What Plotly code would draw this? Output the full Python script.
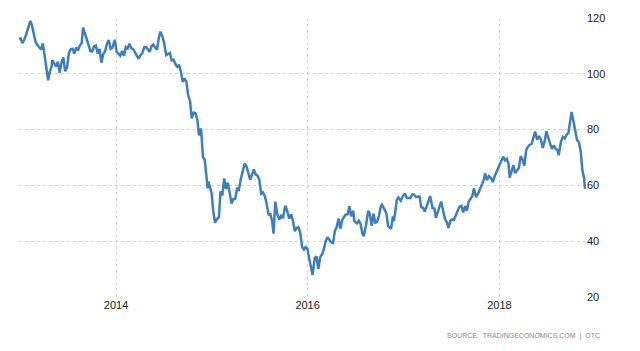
import plotly.graph_objects as go

dates = [
"2012-12-27","2013-01-02","2013-01-09","2013-01-16","2013-01-23","2013-01-30","2013-02-06","2013-02-08","2013-02-14","2013-02-21","2013-02-28",
"2013-03-07","2013-03-14","2013-03-21","2013-03-28","2013-04-04","2013-04-11","2013-04-17","2013-04-24","2013-04-30","2013-05-03",
"2013-05-10","2013-05-17","2013-05-24","2013-05-31","2013-06-07","2013-06-14","2013-06-21","2013-06-28","2013-07-05","2013-07-12",
"2013-07-19","2013-07-26","2013-08-02","2013-08-09","2013-08-16","2013-08-23","2013-08-28","2013-09-04","2013-09-11","2013-09-18",
"2013-09-25","2013-10-02","2013-10-09","2013-10-16","2013-10-23","2013-10-30","2013-11-06","2013-11-13","2013-11-20","2013-11-27",
"2013-12-04","2013-12-11","2013-12-18","2013-12-27",
"2014-01-03","2014-01-10","2014-01-17","2014-01-24","2014-01-31","2014-02-07","2014-02-14","2014-02-21","2014-02-28","2014-03-07",
"2014-03-14","2014-03-21","2014-03-28","2014-04-04","2014-04-11","2014-04-18","2014-04-25","2014-05-02","2014-05-09","2014-05-16",
"2014-05-23","2014-05-30","2014-06-06","2014-06-13","2014-06-19","2014-06-27","2014-07-03","2014-07-11","2014-07-18","2014-07-25",
"2014-08-01","2014-08-08","2014-08-15","2014-08-22","2014-08-29","2014-09-05","2014-09-12","2014-09-19","2014-09-26","2014-10-03",
"2014-10-10","2014-10-16","2014-10-24","2014-10-31","2014-11-07","2014-11-13","2014-11-21","2014-11-28","2014-12-05","2014-12-12",
"2014-12-16","2014-12-19","2014-12-31",
"2015-01-06","2015-01-13","2015-01-20","2015-01-28","2015-02-03","2015-02-10","2015-02-17","2015-02-24","2015-03-03","2015-03-10",
"2015-03-17","2015-03-24","2015-03-31","2015-04-07","2015-04-14","2015-04-21","2015-04-28","2015-05-06","2015-05-13","2015-05-20",
"2015-05-27","2015-06-03","2015-06-10","2015-06-17","2015-06-24","2015-07-01","2015-07-08","2015-07-15","2015-07-22","2015-07-29",
"2015-08-05","2015-08-12","2015-08-19","2015-08-24","2015-08-31","2015-09-08","2015-09-15","2015-09-22","2015-09-29","2015-10-06",
"2015-10-09","2015-10-16","2015-10-23","2015-10-30","2015-11-06","2015-11-13","2015-11-20","2015-11-27","2015-12-04","2015-12-11",
"2015-12-18","2015-12-24","2015-12-31",
"2016-01-07","2016-01-14","2016-01-20","2016-01-28","2016-02-04","2016-02-11","2016-02-18","2016-02-25","2016-03-03","2016-03-10",
"2016-03-17","2016-03-24","2016-03-31","2016-04-07","2016-04-14","2016-04-21","2016-04-28","2016-05-05","2016-05-12","2016-05-19",
"2016-05-26","2016-06-02","2016-06-08","2016-06-15","2016-06-23","2016-06-27","2016-07-07","2016-07-14","2016-07-21","2016-07-28",
"2016-08-02","2016-08-11","2016-08-19","2016-08-25","2016-09-01","2016-09-08","2016-09-15","2016-09-22","2016-09-29","2016-10-06",
"2016-10-10","2016-10-20","2016-10-27","2016-11-03","2016-11-14","2016-11-21","2016-11-25","2016-11-30","2016-12-06","2016-12-12",
"2016-12-21","2016-12-29",
"2017-01-06","2017-01-13","2017-01-20","2017-01-27","2017-02-03","2017-02-10","2017-02-17","2017-02-24","2017-03-03","2017-03-09",
"2017-03-16","2017-03-22","2017-03-31","2017-04-07","2017-04-12","2017-04-21","2017-04-28","2017-05-04","2017-05-11","2017-05-18",
"2017-05-24","2017-05-31","2017-06-07","2017-06-14","2017-06-21","2017-06-28","2017-07-05","2017-07-12","2017-07-19","2017-07-26",
"2017-08-02","2017-08-09","2017-08-16","2017-08-23","2017-08-30","2017-09-06","2017-09-13","2017-09-20","2017-09-26","2017-10-04",
"2017-10-11","2017-10-18","2017-10-27","2017-11-03","2017-11-07","2017-11-15","2017-11-22","2017-11-30","2017-12-07","2017-12-14",
"2017-12-20","2017-12-28",
"2018-01-04","2018-01-12","2018-01-15","2018-01-22","2018-01-29","2018-02-05","2018-02-09","2018-02-16","2018-02-23","2018-03-02",
"2018-03-09","2018-03-16","2018-03-23","2018-03-30","2018-04-06","2018-04-13","2018-04-19","2018-04-27","2018-05-04","2018-05-10",
"2018-05-17","2018-05-25","2018-05-31","2018-06-08","2018-06-15","2018-06-22","2018-06-29","2018-07-06","2018-07-13","2018-07-20",
"2018-07-27","2018-08-03","2018-08-10","2018-08-15","2018-08-24","2018-08-31","2018-09-07","2018-09-14","2018-09-21","2018-09-28",
"2018-10-03","2018-10-10","2018-10-17","2018-10-24","2018-10-31","2018-11-07","2018-11-13","2018-11-20","2018-11-23","2018-11-26",
"2018-11-27",
]

prices = [
112.5,112.7,111.0,112.2,114.0,116.2,117.5,118.9,117.5,114.5,111.5,
110.3,109.3,108.7,110.9,106.5,102.0,97.7,101.0,102.5,104.9,
103.9,102.6,104.3,100.4,104.0,105.9,100.9,102.2,107.4,108.8,
109.0,107.2,109.5,108.3,110.2,111.0,116.6,114.5,112.5,110.5,
108.2,108.0,109.8,110.1,107.3,108.9,104.0,107.1,108.0,110.7,
112.1,109.0,109.4,112.2,
107.9,107.2,106.5,108.2,106.4,109.6,109.1,110.8,109.1,108.9,
107.5,106.5,105.4,106.7,107.3,109.5,109.6,108.6,107.9,109.8,
110.5,109.4,108.6,113.0,115.1,113.3,111.0,106.7,107.2,107.5,
104.8,105.0,103.5,102.5,103.2,100.8,97.1,98.4,97.0,92.3,
90.2,84.0,86.1,85.9,83.4,77.9,80.4,70.2,69.1,61.9,
58.9,61.4,57.3,
51.1,46.6,47.9,48.5,57.9,56.4,62.5,58.7,61.0,56.4,
53.5,55.1,55.1,58.8,58.4,62.1,64.6,67.8,66.8,64.7,
62.1,63.8,65.7,63.9,63.5,62.0,57.0,57.5,56.1,53.4,
49.6,49.7,47.2,42.7,54.2,49.5,47.8,49.1,48.2,51.9,
52.7,50.5,48.1,49.6,47.4,43.6,44.7,45.0,43.0,37.9,
37.0,37.9,37.3,
33.8,30.9,27.9,33.9,34.5,30.1,34.3,35.3,37.1,40.1,
41.5,40.4,39.6,39.4,43.8,45.1,48.1,44.5,47.6,48.8,
49.6,49.7,52.5,48.9,50.9,47.2,46.4,47.4,46.2,42.7,
41.8,46.0,50.9,49.7,45.5,49.9,46.6,46.9,49.2,52.5,
53.1,51.4,50.0,45.4,44.4,48.9,47.2,50.5,54.9,55.7,
54.5,56.1,
57.1,55.5,55.5,55.5,56.8,56.7,55.8,56.0,55.9,52.2,
52.0,50.6,52.8,55.2,56.2,51.9,51.7,48.4,50.8,52.5,
54.2,50.8,48.1,46.9,44.8,47.3,47.8,47.7,49.7,50.9,
52.4,52.7,50.3,52.6,50.9,54.2,55.2,56.3,59.0,55.8,
56.9,58.2,60.4,62.1,64.3,61.9,63.3,62.6,61.2,63.3,
64.6,66.2,
68.1,69.9,70.3,69.0,69.5,67.6,62.8,64.8,67.3,64.4,
65.5,66.2,70.5,69.3,67.1,72.6,73.8,74.6,74.9,77.5,
79.3,76.4,77.6,76.5,73.4,75.6,79.4,77.1,75.3,73.1,
74.3,73.2,72.8,70.8,75.8,77.4,76.8,78.1,78.8,82.7,
86.3,83.1,80.1,76.2,75.5,72.1,65.5,62.5,58.8,60.2,
58.8,
]

y_ticks = [20, 40, 60, 80, 100, 120]
source_text = "SOURCE:  TRADINGECONOMICS.COM  |  OTC"

fig = go.Figure()
fig.add_trace(go.Scatter(
    x=dates, y=prices, mode="lines",
    line=dict(color="#3f7eb7", width=2.5),
    hoverinfo="skip",
))

fig.update_layout(
    width=640, height=351,
    margin=dict(l=19, r=54, t=18, b=54),
    paper_bgcolor="white", plot_bgcolor="white",
    showlegend=False,
    font=dict(family="Liberation Sans, Arial, sans-serif", size=11, color="#1a1a1a"),
)
fig.update_xaxes(
    type="date",
    range=[dates[0], dates[-1]],
    tick0="2014-01-01", dtick="M24", tickformat="%Y",
    showgrid=True, gridcolor="#d4d4d4", griddash="dot", gridwidth=1,
    showline=False, zeroline=False, ticks="",
    tickfont=dict(size=11, color="#1a1a1a"),
)
fig.update_yaxes(
    side="right", range=[20, 120],
    tickvals=y_ticks, ticktext=[str(v) for v in y_ticks],
    showgrid=True, gridcolor="#d4d4d4", griddash="dot", gridwidth=1,
    showline=False, zeroline=False, ticks="",
    tickfont=dict(size=11, color="#1a1a1a"),
)
fig.add_annotation(
    text=source_text, xref="paper", yref="paper",
    x=(602 - 19) / 567, y=(297 - 336) / 279,
    xanchor="right", yanchor="middle", showarrow=False,
    font=dict(size=7, color="#8a8a8a"),
)

fig.write_html("out.html")
